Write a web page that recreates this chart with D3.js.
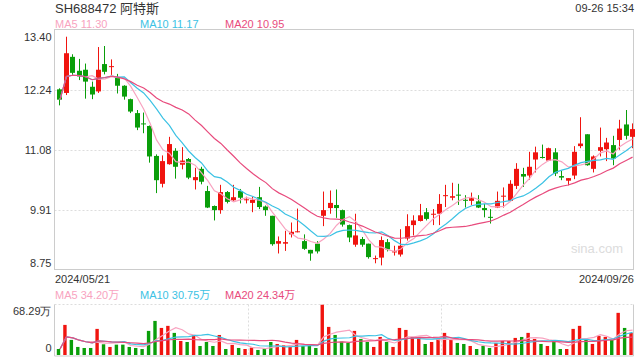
<!DOCTYPE html>
<html><head><meta charset="utf-8">
<script src="https://cdn.jsdelivr.net/npm/d3@7/dist/d3.min.js"></script>
<style>
html,body{margin:0;padding:0;background:#fff;}
svg{display:block;font-family:"Liberation Sans",Arial,"Noto Sans CJK SC",sans-serif;}
</style></head>
<body>
<svg id="c" width="640" height="360"></svg>
<script>
// ---- data ----
const title = "SH688472 阿特斯";
const stamp = "09-26 15:34";
const dateLabels = ["2024/05/21", "2024/09/26"];
const priceTicks = [13.40, 12.24, 11.08, 9.91, 8.75];
const volTicks = [0, 68.29];

const open = [12.25,12.18,12.88,12.61,12.63,12.30,12.21,12.74,12.69,12.48,
12.32,12.06,11.79,11.59,11.54,10.96,10.42,10.80,11.06,10.79,
10.90,10.49,10.71,10.28,9.99,9.91,10.26,10.10,10.28,10.11,
10.05,10.16,9.98,9.80,9.26,9.26,9.44,9.49,9.31,9.14,
9.26,9.80,9.95,10.01,9.91,9.62,9.24,9.35,9.26,8.97,
8.99,9.29,9.10,9.05,9.36,9.62,9.70,9.87,9.83,9.84,
10.19,10.15,10.21,10.11,10.09,10.08,9.95,9.78,9.96,10.18,
10.09,10.38,10.61,10.58,10.89,10.94,10.87,11.03,10.57,10.48,
10.58,11.15,11.38,10.71,11.06,11.09,11.17,11.27,11.57,11.33];
const high = [12.27,13.27,12.93,12.84,12.75,12.40,13.07,13.09,12.83,12.55,
12.33,12.07,11.85,11.80,11.55,10.99,10.97,11.33,11.11,11.13,
10.92,10.73,10.75,10.38,10.00,10.40,10.28,10.40,10.32,10.17,
10.17,10.36,10.00,9.80,9.40,9.51,9.67,9.94,9.44,9.14,
9.31,10.27,10.29,10.31,9.92,9.63,9.84,9.39,9.26,9.03,
9.40,9.35,9.22,9.54,9.83,9.81,10.03,9.95,9.93,10.22,
10.40,10.44,10.42,10.20,10.25,10.20,10.03,9.93,10.27,10.35,
10.49,10.82,10.73,11.04,11.14,11.18,11.12,11.11,10.67,10.53,
11.15,11.71,11.38,10.97,11.51,11.31,11.35,11.66,11.85,11.59];
const low = [11.94,12.14,12.51,12.43,12.07,12.06,12.18,12.54,12.53,12.17,
12.05,11.79,11.46,11.40,10.83,10.24,10.35,10.79,10.52,10.70,
10.51,10.31,10.41,9.95,9.71,9.84,10.04,10.09,10.04,10.04,
9.87,9.93,9.80,9.22,9.07,9.12,9.38,9.48,9.14,8.93,
9.07,9.60,9.84,9.76,9.59,9.29,9.20,9.20,8.97,8.88,
8.84,9.11,9.03,9.01,9.32,9.42,9.69,9.71,9.62,9.62,
9.97,10.10,10.01,9.96,10.01,9.95,9.77,9.65,9.95,9.96,
10.07,10.32,10.36,10.50,10.64,10.91,10.86,10.57,10.49,10.39,
10.51,11.11,10.77,10.64,10.95,10.86,10.78,11.08,11.28,11.11];
const close = [12.05,12.95,12.57,12.50,12.40,12.15,12.63,12.59,12.70,12.32,
12.11,11.82,11.51,11.58,10.95,10.49,10.86,11.19,10.75,10.87,
10.54,10.55,10.46,9.96,9.91,10.26,10.07,10.16,10.15,10.12,
10.11,9.97,9.91,9.25,9.31,9.29,9.49,9.50,9.16,9.07,
9.11,9.91,10.05,9.95,9.63,9.38,9.42,9.24,9.00,8.98,
9.33,9.15,9.11,9.22,9.60,9.71,9.81,9.74,9.84,10.03,
10.20,10.18,10.20,10.10,10.14,9.96,9.91,9.77,10.09,10.19,
10.42,10.71,10.56,10.75,11.03,10.93,11.11,10.62,10.54,10.53,
11.04,11.20,10.78,10.95,11.13,11.22,10.91,11.49,11.35,11.48];
// volume, 万
const volume = [8.1,40.7,20.4,10.9,9.5,9.5,35.3,14.5,10.9,14.0,
14.0,10.9,9.5,8.1,32.6,46.1,36.6,39.4,29.9,19.0,
17.6,26.7,12.2,17.6,12.2,27.1,8.1,13.6,9.5,8.1,
10.0,6.8,8.6,17.6,14.9,13.1,10.9,20.4,12.2,12.2,
9.5,68.29,38.0,27.1,18.1,16.3,32.6,21.7,17.6,10.9,
24.4,17.6,10.9,36.6,33.9,24.4,23.1,14.9,17.6,21.7,
29.9,20.4,16.3,14.9,12.2,8.1,12.2,9.5,16.3,19.0,
19.0,23.1,24.4,29.9,21.7,14.9,12.2,19.0,8.1,8.1,
35.3,39.4,21.7,14.9,25.8,24.4,20.4,57.0,36.6,29.9];
const maPeriods = [5, 10, 20];
const priceMaLegend = ["11.30", "11.17", "10.95"];
const volMaLegend = ["34.20万", "30.75万", "24.34万"];

// ---- styles ----
const RED = "#f0140f", GREEN = "#0a9e0a";
const MA_COLORS = ["#f8a3c0", "#3cc2e4", "#e84b7d"];
const TXT = "#333";

const svg = d3.select("#c");
const L = 54.5, R = 633.5;
const mainTop = 30, mainBot = 270;
const volTop = 304.5, volBot = 355;

const idx = d3.range(close.length);
const x = d3.scaleBand().domain(idx).range([56.8, 56.8 + 6.433 * close.length]).padding(0);
const bw = x.bandwidth();
const y = d3.scaleLinear().domain([8.75, 13.40]).range([mainBot, mainTop]);
const yv = d3.scaleLinear().domain([0, 68.29]).range([volBot, volTop]);

function ma(arr, n) {
  return arr.map((_, i) => {
    const s = arr.slice(Math.max(0, i - n + 1), i + 1);
    return d3.mean(s);
  });
}
const isUp = i => close[i] > open[i] || (close[i] === open[i]);

// header
svg.append("text").attr("x", 55).attr("y", 13).attr("font-size", 13).attr("fill", TXT).text(title);
svg.append("text").attr("x", 634).attr("y", 12).attr("text-anchor", "end").attr("font-size", 11).attr("fill", TXT).text(stamp);

// legends
maPeriods.forEach((p, k) => {
  svg.append("text").attr("x", 55 + 85 * k).attr("y", 28).attr("font-size", 11)
    .attr("fill", MA_COLORS[k]).text("MA" + p + " " + priceMaLegend[k]);
  svg.append("text").attr("x", 55 + 85 * k).attr("y", 299).attr("font-size", 11)
    .attr("fill", MA_COLORS[k]).text("MA" + p + " " + volMaLegend[k]);
});

// clip
const defs = svg.append("defs");
defs.append("clipPath").attr("id", "clipMain").append("rect")
  .attr("x", L).attr("y", mainTop).attr("width", R - L + 3).attr("height", mainBot - mainTop);
defs.append("clipPath").attr("id", "clipVol").append("rect")
  .attr("x", L).attr("y", volTop).attr("width", R - L + 3).attr("height", volBot - volTop + 1);

// main grid
const grid = svg.append("g");
priceTicks.slice(1, -1).forEach(t => {
  grid.append("line").attr("x1", L).attr("x2", R).attr("y1", Math.round(y(t)) + 0.5).attr("y2", Math.round(y(t)) + 0.5)
    .attr("stroke", "#ddd").attr("stroke-dasharray", "2,2");
});
// main box
svg.append("rect").attr("x", L).attr("y", mainTop - 0.5).attr("width", R - L).attr("height", mainBot - mainTop)
  .attr("fill", "none").attr("stroke", "#ccc");

// y axis
const yAxis = svg.append("g").attr("transform", `translate(${L - 3},0)`)
  .call(d3.axisLeft(y).tickValues(priceTicks).tickSize(0).tickPadding(0).tickFormat(d3.format(".2f")));
yAxis.select(".domain").remove();
yAxis.selectAll("text").attr("font-size", 11).attr("fill", TXT).attr("font-family", "Liberation Sans, Arial, sans-serif")
  .attr("dy", (d, i) => i === 0 ? "0.95em" : (i === priceTicks.length - 1 ? "-0.3em" : "0.32em"));

// date labels
svg.append("text").attr("x", 55).attr("y", 283).attr("font-size", 11).attr("fill", TXT).text(dateLabels[0]);
svg.append("text").attr("x", 634).attr("y", 283).attr("text-anchor", "end").attr("font-size", 11).attr("fill", TXT).text(dateLabels[1]);

// watermark
svg.append("text").attr("x", 623).attr("y", 253).attr("text-anchor", "end").attr("font-size", 13)
  .attr("fill", "#dcdcdc").text("sina.com");

// candles
const cg = svg.append("g").attr("clip-path", "url(#clipMain)");
idx.forEach(i => {
  const col = isUp(i) ? RED : GREEN;
  const cx = Math.round(x(i) + bw / 2 + 0.4) + 0.5 - 1;
  cg.append("line").attr("x1", cx).attr("x2", cx).attr("y1", y(high[i])).attr("y2", y(low[i]))
    .attr("stroke", col).attr("stroke-width", 1);
  const top = y(Math.max(open[i], close[i])), bot = y(Math.min(open[i], close[i]));
  cg.append("rect").attr("x", cx - 2.5).attr("width", 5).attr("y", top).attr("height", Math.max(1, bot - top))
    .attr("fill", col);
});

// price MA lines
maPeriods.forEach((p, k) => {
  const m = ma(close, p);
  cg.append("path").datum(m)
    .attr("d", d3.line().x((d, i) => x(i) + bw / 2).y(d => y(d)))
    .attr("fill", "none").attr("stroke", MA_COLORS[k]).attr("stroke-width", 1.2);
});

// volume panel
const vg = svg.append("g");
[1, 2].forEach(k => {
  const xx = Math.round(L + (R - L) * k / 3) + 0.5;
  vg.append("line").attr("x1", xx).attr("x2", xx).attr("y1", volTop).attr("y2", volBot)
    .attr("stroke", "#ddd").attr("stroke-dasharray", "2,2");
});
vg.append("line").attr("x1", L).attr("x2", R).attr("y1", volTop).attr("y2", volTop)
  .attr("stroke", "#ddd").attr("stroke-dasharray", "2,2");
vg.append("line").attr("x1", L).attr("x2", L).attr("y1", volTop).attr("y2", volBot + 1).attr("stroke", "#ccc");
vg.append("line").attr("x1", R).attr("x2", R).attr("y1", volTop).attr("y2", volBot + 1).attr("stroke", "#ccc");
vg.append("line").attr("x1", L).attr("x2", R).attr("y1", volBot + 1).attr("y2", volBot + 1).attr("stroke", "#ccc");

const vAxis = svg.append("g").attr("transform", `translate(${L - 3},0)`)
  .call(d3.axisLeft(yv).tickValues(volTicks).tickSize(0).tickPadding(0)
    .tickFormat(d => d === 0 ? "0" : d3.format(".2f")(d) + "万"));
vAxis.select(".domain").remove();
vAxis.selectAll("text").attr("font-size", 11).attr("fill", TXT)
  .attr("dy", (d, i) => d === 0 ? "-0.35em" : "0.95em");

const vb = svg.append("g").attr("clip-path", "url(#clipVol)");
idx.forEach(i => {
  const col = isUp(i) ? RED : GREEN;
  vb.append("rect").attr("x", x(i)).attr("width", 3.4).attr("y", yv(volume[i]))
    .attr("height", volBot - yv(volume[i])).attr("fill", col);
});
maPeriods.forEach((p, k) => {
  const m = ma(volume, p);
  vb.append("path").datum(m)
    .attr("d", d3.line().x((d, i) => x(i) + bw / 2).y(d => yv(d)))
    .attr("fill", "none").attr("stroke", MA_COLORS[k]).attr("stroke-width", 1.2);
});
</script>
</body></html>
